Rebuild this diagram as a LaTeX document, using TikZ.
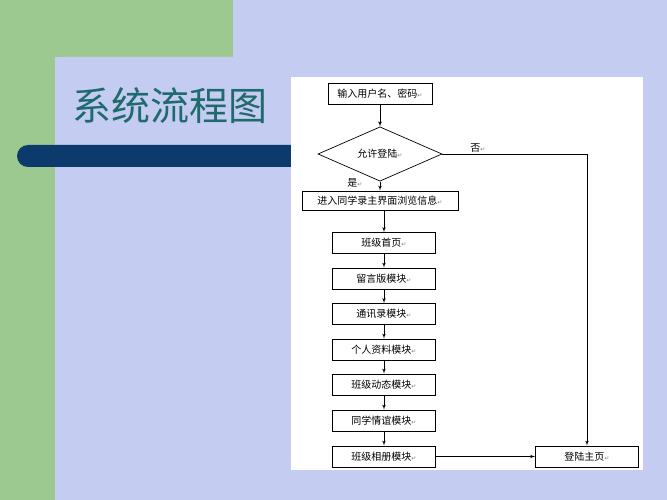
\documentclass[tikz,border=0pt]{standalone}
\usepackage{fontspec}
\newfontfamily\cjk{Noto Sans CJK SC}
\newfontfamily\marksfont{DejaVu Sans}
\usetikzlibrary{shapes,arrows,positioning,calc}

\definecolor{slideblue}{HTML}{C4CCF2}
\definecolor{slidegreen}{HTML}{9CC990}
\definecolor{barnavy}{HTML}{0C3A6C}
\definecolor{titleteal}{HTML}{1E6A6C}
\newcommand{\retmark}{{\marksfont\fontsize{6}{6}\selectfont\color{gray}↵}}

\begin{document}
\begin{tikzpicture}[x=1pt, y=-1pt,
			font=\cjk\fontsize{10}{12}\selectfont,
			block/.style={rectangle, draw=black, fill=white, line width=0.7pt,
				minimum width=103pt, minimum height=21pt, inner sep=0pt},
			decision/.style={diamond, draw=black, fill=white, line width=0.7pt,
				minimum width=124pt, minimum height=42pt, inner sep=0pt},
			line/.style={draw, line width=0.7pt, -latex'}]
			
			\useasboundingbox (0,0) rectangle (667,500);
			\clip (0,0) rectangle (667,500);
			
			% Slide background
			\fill[slideblue] (0,0) rectangle (667,500);
			\fill[slidegreen] (0,0) rectangle (233,57);
			\fill[slidegreen] (0,0) rectangle (55,500);
			\fill[slideblue, rounded corners=8pt] (55,57) rectangle (700,520);
			\fill[barnavy, rounded corners=11pt] (17,145) rectangle (320,167);
			
			% Title
			\node[text=titleteal, font=\cjk\fontsize{39}{44}\selectfont] (title) at (170,106) {系统流程图};
			
			% Chart panel
			\fill[white] (291,77) rectangle (643,470);
			
			% Login
			\node[block, minimum width=104pt] (input) at (380,93.5) {输入用户名、密码\retmark};
			\node[decision] (allow) at (380,154) {允许登陆\retmark};
			\node[block, minimum width=156pt, minimum height=19pt] (enter) at (380,200.5) {进入同学录主界面浏览信息\retmark};
			\path[line] (input) -- (allow);
			\path[line] (allow) -- (enter);
			\node (yes) at (355,183) {是\retmark};
			\node (no) at (478,148) {否\retmark};
			
			% Modules
			\node[block] (m1) at (384,243) {班级首页\retmark};
			\node[block] (m2) at (384,278.5) {留言版模块\retmark};
			\node[block] (m3) at (384,314) {通讯录模块\retmark};
			\node[block] (m4) at (384,349.5) {个人资料模块\retmark};
			\node[block] (m5) at (384,384.5) {班级动态模块\retmark};
			\node[block] (m6) at (384,420.5) {同学情谊模块\retmark};
			\node[block] (m7) at (384,456.5) {班级相册模块\retmark};
			\path[line] (enter.south -| m1) -- (m1);
			\path[line] (m1) -- (m2);
			\path[line] (m2) -- (m3);
			\path[line] (m3) -- (m4);
			\path[line] (m4) -- (m5);
			\path[line] (m5) -- (m6);
			\path[line] (m6) -- (m7);
			
			% Home page
			\node[block] (home) at (587,456.5) {登陆主页\retmark};
			\path[line] (allow.east) -| (home.north);
			\path[line] (m7) -- (home);
		\end{tikzpicture}
\end{document}
